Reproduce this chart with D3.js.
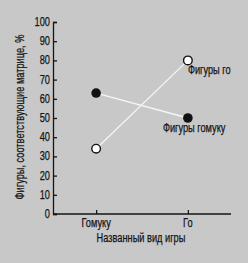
<!DOCTYPE html>
<html>
<head>
<meta charset="utf-8">
<script src="https://cdn.jsdelivr.net/npm/d3@7"></script>
<style>
  html, body { margin: 0; padding: 0; background: #c8c8c8; }
  svg { display: block; }
  text { font-family: "Liberation Sans Narrow", "Liberation Sans", Arial, sans-serif; fill: #151515; font-size: 12px; stroke: #151515; stroke-width: 0.25px; }
</style>
</head>
<body>
<div id="chart"></div>
<script>
const games = ["Гомуку", "Го"];
const goFigures = [34, 80];
const gomokuFigures = [63, 50];
const yTicks = [0, 10, 20, 30, 40, 50, 60, 70, 80, 90, 100];

const w = 248, h = 263;
const padLeft = 53, padRight = 231, padTop = 22, padBottom = 214;

const svg = d3.select("#chart").append("svg")
  .attr("width", w)
  .attr("height", h);

const x = d3.scalePoint().domain(games).range([padLeft, padRight]).padding(0.47);
const y = d3.scaleLinear().domain([0, 100]).range([padBottom, padTop]);

// y axis, ticks pointing inward
const yAxis = svg.append("g")
  .attr("transform", `translate(${padLeft},0)`)
  .call(d3.axisRight(y).tickValues(yTicks).tickSize(4).tickFormat(""));
yAxis.selectAll("path, line").attr("stroke", "#151515").attr("stroke-width", 1.3);

svg.append("g").selectAll("text")
  .data(yTicks)
  .enter().append("text")
  .attr("x", padLeft - 3)
  .attr("y", d => y(d) + 4)
  .attr("text-anchor", "end")
  .text(d => d);

// x axis, ticks pointing up
const xAxis = svg.append("g")
  .attr("transform", `translate(0,${padBottom})`)
  .call(d3.axisTop(x).tickSize(4).tickSizeOuter(0).tickFormat(""));
xAxis.select("path").attr("d", `M${padLeft},0H${padRight}`);
xAxis.selectAll("path, line").attr("stroke", "#151515").attr("stroke-width", 1.3);

svg.append("g").selectAll("text")
  .data(games)
  .enter().append("text")
  .attr("x", d => x(d))
  .attr("y", padBottom + 13)
  .attr("text-anchor", "middle")
  .text(d => d);

// connecting lines
const line = d3.line().x((d, i) => x(games[i])).y(d => y(d));
[goFigures, gomokuFigures].forEach(s => {
  svg.append("path")
    .attr("d", line(s))
    .attr("fill", "none")
    .attr("stroke", "#f6f6f6")
    .attr("stroke-width", 1.3);
});

// points
svg.selectAll(".go").data(goFigures).enter().append("circle")
  .attr("cx", (d, i) => x(games[i]))
  .attr("cy", d => y(d))
  .attr("r", 4.3)
  .attr("fill", "#ffffff")
  .attr("stroke", "#111")
  .attr("stroke-width", 1.4);

svg.selectAll(".gomoku").data(gomokuFigures).enter().append("circle")
  .attr("cx", (d, i) => x(games[i]))
  .attr("cy", d => y(d))
  .attr("r", 4.8)
  .attr("fill", "#111");

// series labels
svg.append("text")
  .attr("x", x("Го"))
  .attr("y", y(goFigures[1]) + 14)
  .text("Фигуры го");

svg.append("text")
  .attr("x", x("Го") - 25)
  .attr("y", y(gomokuFigures[1]) + 14)
  .text("Фигуры гомуку");

// axis titles
svg.append("text")
  .attr("x", 141)
  .attr("y", 242)
  .attr("text-anchor", "middle")
  .text("Названный вид игры");

svg.append("text")
  .attr("transform", `translate(24,${(padTop + padBottom) / 2 - 1}) rotate(-90)`)
  .attr("text-anchor", "middle")
  .text("Фигуры, соответствующие матрице, %");

// squeeze all text to a condensed look, like the printed narrow face
svg.selectAll("text").each(function () {
  const len = this.getComputedTextLength();
  d3.select(this)
    .attr("textLength", len * 0.77)
    .attr("lengthAdjust", "spacingAndGlyphs");
});
</script>
</body>
</html>
